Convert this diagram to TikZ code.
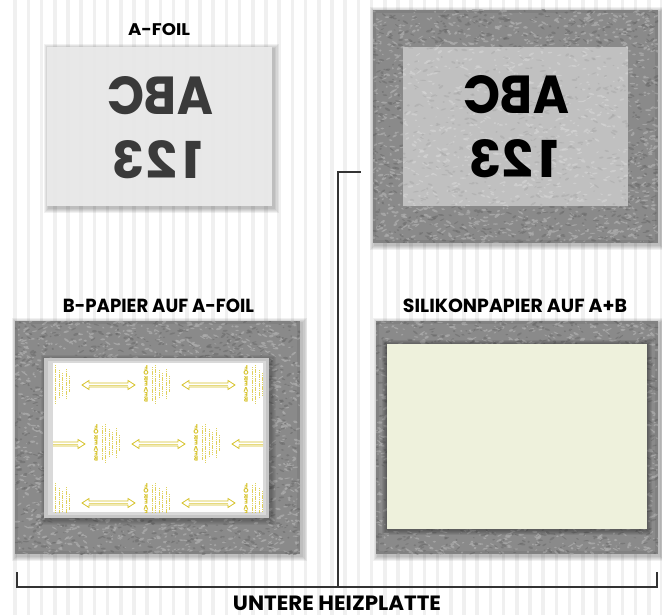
\documentclass[tikz,border=0pt]{standalone}
\usepackage{fontspec}
\usepackage{graphicx}
\newfontfamily\labfont{Poppins}
\definecolor{stripe}{HTML}{F0F0F0}
\definecolor{cardgray}{HTML}{ECECEC}
\definecolor{abcgray}{HTML}{3A3A3A}
\definecolor{panelbase}{HTML}{8A8A8A}
\definecolor{panellight}{HTML}{ABABAB}
\definecolor{paneldark}{HTML}{6A6A6A}
\definecolor{innerbase}{HTML}{C0C0C0}
\definecolor{innerlight}{HTML}{D3D3D3}
\definecolor{innerdark}{HTML}{A8A8A8}
\definecolor{framegray}{HTML}{C6C6C6}
\definecolor{cream}{HTML}{EEF1DC}
\definecolor{yel}{RGB}{214,194,40}
\definecolor{linec}{HTML}{333333}
\tikzset{
  lab/.style={font=\labfont\bfseries, inner sep=0pt, text=black, anchor=base},
  bigtxt/.style={font=\labfont\bfseries, inner sep=0pt, anchor=base, xscale=-1},
  forever/.style={rotate=180, text=yel, font=\labfont\bfseries\fontsize{6.5}{5.4}\selectfont, align=center, inner sep=0pt},
  tinyline/.style={yel, line width=0.7pt, opacity=0.75, dash pattern=on 1.2pt off 0.6pt},
  yarrow/.style={yel, line width=0.8pt, line join=miter},
  bracket/.style={linec, line width=1.2pt},
  lightblob/.style={panellight, opacity=0.8},
  darkblob/.style={paneldark, opacity=0.55},
  ilightblob/.style={innerlight, opacity=0.7},
  idarkblob/.style={innerdark, opacity=0.5},
}
% random blobs with centres in a rectangle (no clipping); #5 density per px^2, #6 style
\newcommand\sblobs[6]{%
  \pgfmathtruncatemacro\nb{(#3-#1)*((#4-#2)*#5)}%
  \foreach \k in {1,...,\nb}{%
    \pgfmathsetmacro\tx{#1+rnd*(#3-#1)}%
    \pgfmathsetmacro\ty{#2+rnd*(#4-#2)}%
    \pgfmathsetmacro\ta{1.0+rnd*2.2}%
    \pgfmathsetmacro\tb{0.5+rnd*0.8}%
    \pgfmathsetmacro\tr{rnd*80-40}%
    \fill[#6] (\tx,\ty) ellipse [x radius=\ta pt, y radius=\tb pt, rotate=\tr];
  }}
% textured frame: outer x1 y1 x2 y2, inner ix1 iy1 ix2 iy2
\newcommand\frameblobs[8]{%
  \begin{scope}
  \clip (#1,#2) rectangle (#3,#4);
  \sblobs{#1}{#2}{#3}{#6}{0.028}{lightblob}
  \sblobs{#1}{#8}{#3}{#4}{0.028}{lightblob}
  \sblobs{#1}{#6}{#5}{#8}{0.028}{lightblob}
  \sblobs{#7}{#6}{#3}{#8}{0.028}{lightblob}
  \sblobs{#1}{#2}{#3}{#6}{0.019}{darkblob}
  \sblobs{#1}{#8}{#3}{#4}{0.019}{darkblob}
  \sblobs{#1}{#6}{#5}{#8}{0.019}{darkblob}
  \sblobs{#7}{#6}{#3}{#8}{0.019}{darkblob}
  \foreach \e in {0,1,2}{%
    \draw[black, opacity=0.06, line width=1pt] ({#1+\e+0.5},{#2+\e+0.5}) rectangle ({#3-\e-0.5},{#4-\e-0.5});}
  \end{scope}}
\newcommand\softshadow[4]{%
  \foreach \e in {1,...,5}{%
    \fill[black, opacity=0.055] ({#1-\e+1.5},{#2-\e+2}) rectangle ({#3+\e+1.5},{#4+\e+2});
  }}
\newcommand\flines[2]{%
  \foreach \dx/\len in {10/34,13.5/38,17/28,20.5/22,24/30,27.5/16}{%
    \draw[tinyline] ({#1+\dx},{#2-\len/2}) -- ++(0,\len);
  }}
\newcommand\fblock[2]{%
  \node[forever] at ({#1+4},{#2}) {R\\E\\V\\E\\R\\O\\F};
  \flines{#1}{#2}}
\newcommand\darrow[3]{%
  \draw[yarrow] (#1,#3) -- ++(7,-4.5) -- ++(0,2.5) -- ({#2-7},{#3-2}) -- ++(0,-2.5)
    -- (#2,#3) -- ++(-7,4.5) -- ++(0,-2.5) -- ({#1+7},{#3+2}) -- ++(0,2.5) -- cycle;
  \draw[yel, line width=0.4pt, opacity=0.6] ({#1+7},{#3}) -- ({#2-7},{#3});}
\begin{document}
\begin{tikzpicture}[x=1pt,y=-1pt]
\pgfmathsetseed{4711}
\useasboundingbox (0,0) rectangle (662,615);
\fill[white] (0,0) rectangle (662,615);
% background stripes
\foreach \s in {0,...,50}{\fill[stripe] ({13.3+13.2*\s},0) rectangle ++(3.6,615);}

% ---------- A-FOIL card ----------
\node[lab] (afoil) at (159,36) {\resizebox{62pt}{12pt}{A-FOIL}};
\softshadow{47}{47}{272}{206}
\fill[cardgray, opacity=0.93] (47,47) rectangle (272,206);
\node[bigtxt, text=abcgray] (aabc) at (160,115) {\resizebox{106pt}{38pt}{ABC}};
\node[bigtxt, text=abcgray] (a123) at (157,179) {\resizebox{90pt}{38pt}{1\kern0.08em2\kern0.04em3}};

% ---------- top right: A on plate ----------
\softshadow{373}{10}{658}{243}
\fill[panelbase] (373,10) rectangle (658,243);
\frameblobs{373}{10}{658}{243}{403}{47}{628}{206}
\fill[innerbase] (403,47) rectangle (628,206);
\begin{scope}
  \clip (403,47) rectangle (628,206);
  \sblobs{403}{47}{628}{206}{0.016}{ilightblob}
  \sblobs{403}{47}{628}{206}{0.010}{idarkblob}
\end{scope}
\node[bigtxt, text=black] (tabc) at (516,114) {\resizebox{106pt}{38pt}{ABC}};
\node[bigtxt, text=black] (t123) at (513.5,178) {\resizebox{90pt}{38pt}{1\kern0.08em2\kern0.04em3}};

% ---------- B-PAPIER AUF A-FOIL ----------
\node[lab] (bpap) at (158.5,312) {\resizebox{191pt}{13.5pt}{B-PAPIER AUF A-FOIL}};
\softshadow{15}{321}{300}{554}
\fill[panelbase] (15,321) rectangle (300,554);
\frameblobs{15}{321}{300}{554}{44}{358}{269}{518}
\softshadow{44}{358}{269}{518}
\fill[framegray] (44,358) rectangle (269,518);
\fill[white, opacity=0.35] (48,361) rectangle (266,515);
\fill[white] (53,363) rectangle (263,512);
\begin{scope}
  \clip (53,363) rectangle (263,512);
  % rows 1 and 3
  \foreach \by in {384,502}{%
    \flines{42}{\by}
    \fblock{142}{\by}
    \fblock{242}{\by}
    \darrow{82}{135}{\by+1}
    \darrow{182}{235}{\by+1}
  }
  % row 2
  \fblock{92}{443}
  \fblock{192}{443}
  \darrow{32}{85}{444}
  \darrow{132}{185}{444}
  \darrow{232}{285}{444}
\end{scope}

% ---------- SILIKONPAPIER AUF A+B ----------
\node[lab] (silk) at (515,312) {\resizebox{224pt}{13.5pt}{SILIKONPAPIER AUF A+B}};
\softshadow{376}{321}{658}{554}
\fill[panelbase] (376,321) rectangle (658,554);
\frameblobs{376}{321}{658}{554}{387}{344}{647}{529}
\foreach \e in {1,...,5}{%
  \fill[black, opacity=0.07] ({387-\e},{344-\e+1}) rectangle ({647+\e},{529+\e+1});}
\fill[cream] (387,344) rectangle (647,529);

% ---------- bracket: UNTERE HEIZPLATTE ----------
\coordinate (bl) at (17,572);
\coordinate (bbl) at (17,587);
\coordinate (br) at (657,572);
\coordinate (bbr) at (657,587);
\coordinate (bm) at (338,587);
\coordinate (tconn) at (361,172);
\draw[bracket] (bl) -- (bbl) -- (bbr) -- (br);
\draw[bracket] (bm) |- (tconn);
\node[lab] (heiz) at (337,610) {\resizebox{208pt}{14.5pt}{UNTERE HEIZPLATTE}};
\end{tikzpicture}
\end{document}
